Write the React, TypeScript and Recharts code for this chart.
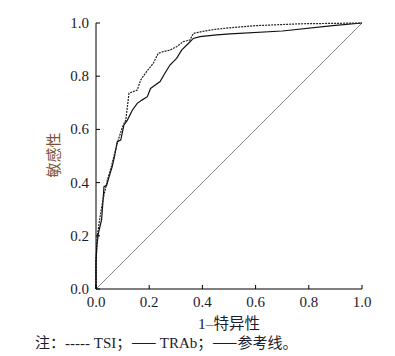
import React from 'react'
import { LineChart, Line, XAxis, YAxis } from 'recharts'

// ROC curves, values
const tsiFpr = [0, 0, 0.003, 0.005, 0.015, 0.027, 0.034, 0.043, 0.055, 0.065, 0.08, 0.09, 0.1, 0.112, 0.124, 0.14, 0.155, 0.168, 0.19, 0.215, 0.234, 0.255, 0.278, 0.303, 0.328, 0.353, 0.366, 0.41, 0.454, 0.504, 0.6, 0.767, 1]
const tsiTpr = [0, 0.1, 0.16, 0.2, 0.27, 0.34, 0.37, 0.41, 0.45, 0.49, 0.548, 0.58, 0.61, 0.635, 0.736, 0.742, 0.748, 0.786, 0.817, 0.848, 0.886, 0.893, 0.898, 0.911, 0.93, 0.936, 0.961, 0.97, 0.977, 0.982, 0.99, 0.997, 1]

const trabFpr = [0, 0, 0.003, 0.009, 0.021, 0.027, 0.03, 0.04, 0.049, 0.061, 0.07, 0.08, 0.093, 0.105, 0.118, 0.137, 0.155, 0.174, 0.193, 0.205, 0.215, 0.241, 0.259, 0.278, 0.303, 0.322, 0.347, 0.366, 0.391, 0.454, 0.504, 0.7, 0.89, 1]
const trabTpr = [0, 0.1, 0.16, 0.21, 0.26, 0.34, 0.385, 0.39, 0.422, 0.46, 0.5, 0.554, 0.56, 0.617, 0.635, 0.673, 0.698, 0.711, 0.723, 0.754, 0.761, 0.78, 0.811, 0.842, 0.867, 0.898, 0.923, 0.942, 0.949, 0.955, 0.959, 0.97, 0.99, 1]

const refX = [0, 1]
const refY = [0, 1]

const ticks = [0, 0.2, 0.4, 0.6, 0.8, 1.0]

const zip = (xs: number[], ys: number[]) => xs.map((x, i) => ({ x, y: ys[i] }))

const tsiData = zip(tsiFpr, tsiTpr)
const trabData = zip(trabFpr, trabTpr)
const refData = zip(refX, refY)

const serif = '"Liberation Serif", "Noto Sans CJK SC", serif'
const cjk = '"Noto Sans CJK SC", sans-serif'

const XTick = (props: any) => {
  const { x, y, payload } = props
  return (
    <text x={x} y={y + 22} textAnchor="middle" fontSize={15} fill="#1c1c2c" fontFamily="Liberation Serif">
      {Number(payload.value).toFixed(1)}
    </text>
  )
}

const YTick = (props: any) => {
  const { y, payload } = props
  return (
    <text x={89} y={y + 5} textAnchor="end" fontSize={15} fill="#1c1c2c" fontFamily="Liberation Serif">
      {Number(payload.value).toFixed(1)}
    </text>
  )
}

export default function App() {
  return (
    <div style={{ position: 'fixed', left: 0, top: 0, width: 395, height: 356, background: '#fff', fontFamily: serif }}>
      <LineChart width={395} height={320} margin={{ top: 23, right: 33, left: 56, bottom: 11 }}>
        <XAxis
          type="number" dataKey="x" domain={[0, 1]} ticks={ticks}
          tick={<XTick />} tickSize={-4} tickMargin={0} height={20}
          stroke="#000" interval={0}
        />
        <XAxis xAxisId="top" orientation="top" type="number" domain={[0, 1]} tick={false} tickLine={false} height={0} stroke="#000" />
        <YAxis
          type="number" domain={[0, 1]} ticks={ticks}
          tick={<YTick />} tickSize={-4} tickMargin={0} width={40}
          stroke="#000" interval={0}
        />
        <YAxis yAxisId="right" orientation="right" type="number" domain={[0, 1]} tick={false} tickLine={false} width={0} stroke="#000" />
        <Line data={refData} dataKey="y" type="linear" stroke="#777" strokeWidth={0.9} dot={false} isAnimationActive={false} />
        <Line data={trabData} dataKey="y" type="linear" stroke="#111" strokeWidth={1.2} dot={false} isAnimationActive={false} />
        <Line data={tsiData} dataKey="y" type="linear" stroke="#222" strokeWidth={1.2} strokeDasharray="2 1" dot={false} isAnimationActive={false} />
      </LineChart>
      <div style={{ position: 'absolute', left: 52, top: 155, transform: 'translate(-50%, -50%) rotate(-90deg)', fontSize: 15, color: '#7b5236', whiteSpace: 'nowrap' }}>
        敏感性
      </div>
      <div style={{ position: 'absolute', left: 229, top: 322, transform: 'translate(-50%, -50%)', fontSize: 15.5, color: '#1c1c2c', whiteSpace: 'nowrap' }}>
        1–特异性
      </div>
      <div style={{ position: 'absolute', left: 35, top: 341, transform: 'translateY(-50%)', fontSize: 15, color: '#1c1c2c', whiteSpace: 'nowrap' }}>
        注：----- TSI；<span style={{ fontFamily: cjk }}>——</span> TRAb；<span style={{ fontFamily: cjk }}>——</span>参考线。
      </div>
    </div>
  )
}
